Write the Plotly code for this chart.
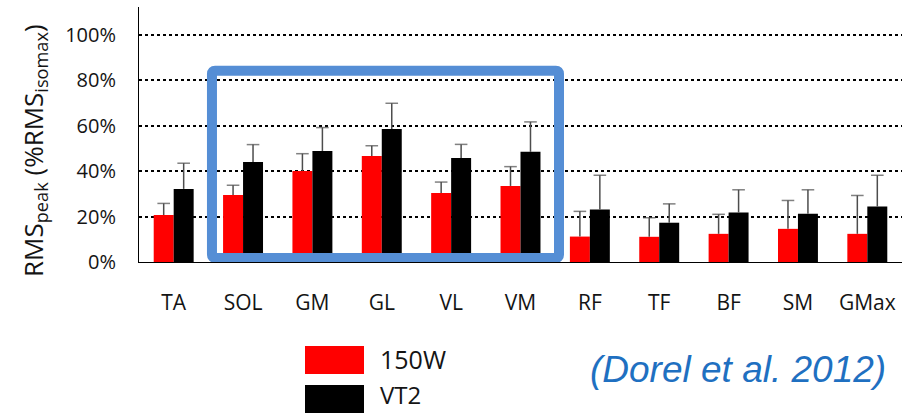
import plotly.graph_objects as go

# ---- data ----
categories = ["TA", "SOL", "GM", "GL", "VL", "VM", "RF", "TF", "BF", "SM", "GMax"]
w150 = [20.7, 29.5, 40.1, 46.7, 30.4, 33.5, 11.2, 11.1, 12.4, 14.6, 12.4]
w150_err = [5.1, 4.3, 7.6, 4.5, 4.8, 8.5, 11.1, 8.4, 8.6, 12.5, 16.9]
vt2 = [32.2, 44.0, 48.9, 58.6, 45.8, 48.5, 23.1, 17.3, 21.8, 21.3, 24.4]
vt2_err = [11.3, 7.7, 10.3, 11.3, 6.0, 13.2, 15.1, 8.3, 10.0, 10.5, 13.8]
series_names = ["150W", "VT2"]
y_ticks = [0, 20, 40, 60, 80, 100]
highlight = ["SOL", "VM"]  # muscles framed by the blue box
source_text = "(Dorel et al. 2012)"

RED = "#FF0000"
BLACK = "#000000"
ERR = "#4d4d4d"
BLUE_BOX = "#558ED5"
FONT = "Open Sans"
TXT = "#141414"

W, H = 905, 413
L, R, T, B = 139, 3, 7, 151
BARGAP = 0.424
YMAX = 112.3

fig = go.Figure()
for name, vals, col in [(series_names[0], w150, RED), (series_names[1], vt2, BLACK)]:
    fig.add_trace(go.Bar(x=categories, y=vals, name=name, marker=dict(color=col, line=dict(width=0)),
                         showlegend=False, offsetgroup=name))


def err_trace(vals, errs, name):
    xs, ys, sizes = [], [], []
    for c, v, e in zip(categories, vals, errs):
        xs += [c, c, None]
        ys += [v, v + e, None]
        sizes += [0, 9, 0]
    return go.Scatter(x=xs, y=ys, mode="lines+markers", offsetgroup=name, showlegend=False,
                      line=dict(color=ERR, width=1.5),
                      marker=dict(symbol="line-ew", size=sizes, color=ERR,
                                  line=dict(color=ERR, width=1.5)),
                      hoverinfo="skip", connectgaps=False)


fig.add_trace(err_trace(w150, w150_err, series_names[0]))
fig.add_trace(err_trace(vt2, vt2_err, series_names[1]))

# blue rounded frame around SOL..VM
i0 = categories.index(highlight[0])
i1 = categories.index(highlight[1])
x0, x1 = i0 - 0.448, i1 + 0.555
y0, y1 = 1.8, 84.2
rx, ry = 0.045, 1.4
path = (f"M{x0+rx},{y0} L{x1-rx},{y0} Q{x1},{y0} {x1},{y0+ry} L{x1},{y1-ry} Q{x1},{y1} {x1-rx},{y1} "
        f"L{x0+rx},{y1} Q{x0},{y1} {x0},{y1-ry} L{x0},{y0+ry} Q{x0},{y0} {x0+rx},{y0} Z")
shapes = [dict(type="path", xref="x", yref="y", path=path, line=dict(color=BLUE_BOX, width=10),
               fillcolor="rgba(0,0,0,0)", layer="above")]

# custom legend (large swatches below the plot)
pw = W - L - R
ph = H - T - B


def px_x(p):
    return (p - L) / pw


def px_y(p):
    return (H - B - p) / ph


shapes.append(dict(type="rect", xref="paper", yref="paper", x0=px_x(305), x1=px_x(364),
                   y0=px_y(346), y1=px_y(374), fillcolor=RED, line=dict(width=0)))
shapes.append(dict(type="rect", xref="paper", yref="paper", x0=px_x(305), x1=px_x(364),
                   y0=px_y(385), y1=px_y(416), fillcolor=BLACK, line=dict(width=0)))

annotations = [
    dict(text=series_names[0], xref="paper", yref="paper", x=px_x(378), y=px_y(359),
         xanchor="left", yanchor="middle", showarrow=False, font=dict(family=FONT, size=25, color=TXT)),
    dict(text=series_names[1], xref="paper", yref="paper", x=px_x(378), y=px_y(413),
         xanchor="left", yanchor="bottom", showarrow=False, font=dict(family=FONT, size=24, color=TXT)),
    dict(text=f"<i>{source_text}</i>", xref="paper", yref="paper", x=px_x(738), y=px_y(369),
         xanchor="center", yanchor="middle", showarrow=False,
         font=dict(family="Liberation Sans", size=37, color="#1F70C1")),
    dict(text="RMS<sub>peak</sub> (%RMS<sub>isomax</sub>)", xref="paper", yref="paper",
         x=px_x(34), y=px_y(151), xanchor="center", yanchor="middle", textangle=-90,
         showarrow=False, font=dict(family=FONT, size=26, color=TXT)),
]

fig.update_layout(
    width=W, height=H,
    margin=dict(l=L, r=R, t=T, b=B, pad=0),
    paper_bgcolor="white", plot_bgcolor="white",
    barmode="group", bargap=BARGAP, bargroupgap=0,
    scattermode="group", scattergap=BARGAP,
    showlegend=False,
    shapes=shapes, annotations=annotations,
    font=dict(family=FONT, color=TXT),
)
fig.update_xaxes(type="category", range=[-0.5, len(categories) - 0.5],
                 showline=True, linecolor="black", linewidth=1, showgrid=False,
                 ticks="", tickfont=dict(family=FONT, size=21, color=TXT),
                 ticklabelstandoff=22, fixedrange=True)
fig.update_yaxes(range=[0, YMAX], tickvals=y_ticks, ticktext=[f"{v}%" for v in y_ticks],
                 showline=True, linecolor="black", linewidth=1,
                 showgrid=True, gridcolor="black", gridwidth=2, griddash="dot",
                 zeroline=False, ticks="", tickfont=dict(family=FONT, size=20, color=TXT),
                 ticklabelstandoff=18, fixedrange=True)

fig.write_html("out.html")
